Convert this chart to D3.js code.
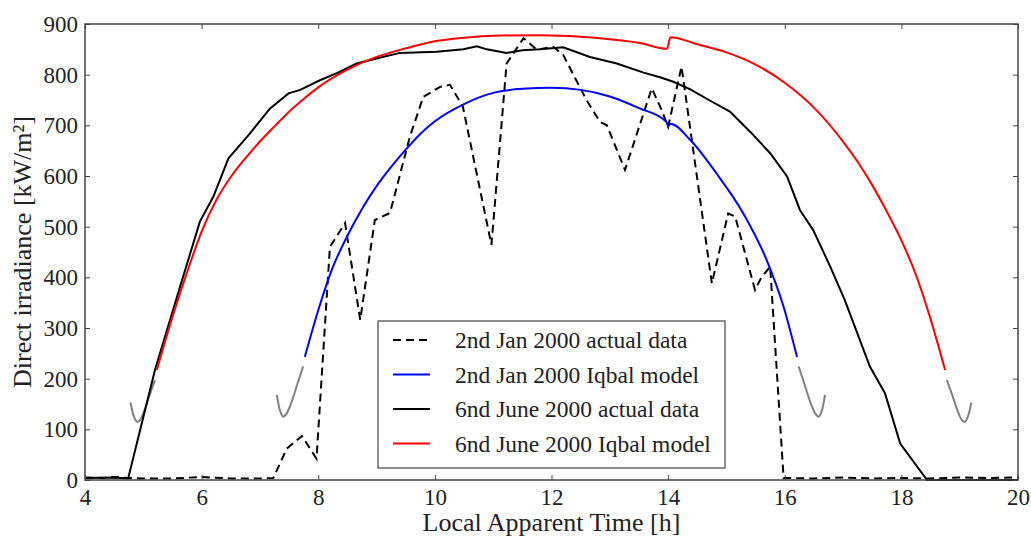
<!DOCTYPE html>
<html>
<head>
<meta charset="utf-8">
<script src="https://cdnjs.cloudflare.com/ajax/libs/d3/7.8.5/d3.min.js"></script>
<style>
  body { margin: 0; background: #fff; }
  text { font-family: "Liberation Serif", "Times New Roman", serif; fill: #222; }
</style>
</head>
<body>
<div id="chart"></div>
<script>
// ---- data ----
var xTicks = [4, 6, 8, 10, 12, 14, 16, 18, 20];
var yTicks = [0, 100, 200, 300, 400, 500, 600, 700, 800, 900];

var seriesNames = ["2nd Jan 2000 actual data", "2nd Jan 2000 Iqbal model",
                   "6nd June 2000 actual data", "6nd June 2000 Iqbal model"];

var janActualX = [4, 4.3, 4.5, 4.75, 5, 5.5, 6, 6.5, 7, 7.23, 7.46, 7.72, 7.97, 8.2, 8.46, 8.72, 8.97, 9.23, 9.57, 9.8, 10.09, 10.26, 10.48, 10.97, 11.23, 11.52, 11.75, 12.03, 12.2, 12.6, 12.83, 12.95, 13.26, 13.72, 13.89, 14.0, 14.23, 14.75, 15.03, 15.15, 15.49, 15.6, 15.75, 15.98, 16.5, 17, 17.5, 18, 18.5, 19, 19.5, 20];
var janActualY = [5, 4, 6, 4, 3, 3, 6, 3, 3, 4, 62, 87, 42, 460, 507, 316, 513, 527, 677, 756, 776, 780, 737, 464, 822, 872, 849, 855, 839, 750, 707, 700, 612, 773, 730, 697, 816, 388, 526, 520, 375, 400, 421, 4, 3, 5, 3, 4, 3, 5, 4, 5];

var janModelX = [7.77, 8.0, 8.25, 8.5, 8.75, 9.0, 9.25, 9.5, 9.75, 10.0, 10.5, 11.0, 11.5, 12.0, 12.5, 13.0, 13.5, 13.97, 14.0, 14.04, 14.38, 14.83, 15.29, 15.69, 15.98, 16.21];
var janModelY = [243, 335, 420, 482, 535, 580, 618, 652, 683, 708, 742, 764, 772, 774, 770, 757, 734, 707, 698, 703, 671, 605, 526, 434, 342, 243];

var junActualX = [4, 4.5, 4.74, 5.2, 5.6, 5.97, 6.2, 6.46, 6.83, 7.17, 7.49, 7.69, 8.03, 8.32, 8.66, 9.0, 9.4, 10.03, 10.49, 10.72, 10.89, 11.23, 11.5, 11.8, 12.2, 12.66, 13.12, 13.58, 13.86, 14.09, 14.38, 14.7, 15.06, 15.41, 15.75, 16.04, 16.26, 16.49, 16.78, 17.03, 17.46, 17.72, 17.98, 18.44, 19, 20];
var junActualY = [4, 5, 3, 217, 370, 510, 559, 635, 684, 733, 763, 770, 789, 803, 822, 832, 843, 845, 850, 856, 850, 843, 848, 850, 854, 835, 822, 804, 795, 786, 771, 750, 727, 687, 645, 599, 533, 493, 421, 355, 224, 171, 72, 0, 0, 0];

var junModelX = [5.23, 5.5, 5.75, 6.0, 6.25, 6.5, 6.75, 7.0, 7.25, 7.5, 7.75, 8.0, 8.5, 9.0, 9.5, 10.0, 10.5, 11.0, 11.8, 12.5, 13.0, 13.5, 13.98, 14.04, 14.5, 15.0, 15.5, 16.0, 16.5, 17.0, 17.25, 17.5, 17.75, 18.0, 18.25, 18.5, 18.75];
var junModelY = [217, 322, 410, 490, 552, 598, 635, 668, 698, 727, 752, 775, 810, 835, 852, 866, 873, 877, 878, 875, 870, 863, 851, 874, 860, 844, 820, 784, 735, 668, 628, 582, 530, 473, 405, 318, 217];

// gray tails of the model below its valid range
var tailsX = [
  [7.74, 7.63, 7.53, 7.45, 7.40, 7.35, 7.29],
  [16.24, 16.35, 16.45, 16.53, 16.58, 16.63, 16.69],
  [5.2, 5.1, 5.01, 4.94, 4.89, 4.84, 4.78],
  [18.78, 18.88, 18.97, 19.04, 19.09, 19.14, 19.2]
];
var tailsY = [
  [224, 185, 150, 130, 125, 135, 168],
  [224, 185, 150, 130, 125, 135, 168],
  [197, 165, 135, 118, 115, 125, 153],
  [197, 165, 135, 118, 115, 125, 153]
];

// ---- layout ----
var width = 1031, height = 539;
var margin = {left: 85, right: 13, top: 24, bottom: 59};
var w = width - margin.left - margin.right;
var h = height - margin.top - margin.bottom;

var svg = d3.select("#chart").append("svg")
    .attr("width", width)
    .attr("height", height);

var g = svg.append("g")
    .attr("transform", "translate(" + margin.left + "," + margin.top + ")");

var x = d3.scaleLinear().domain([4, 20]).range([0, w]);
var y = d3.scaleLinear().domain([0, 900]).range([h, 0]);

function zip(xs, ys) { return xs.map(function(v, i) { return [v, ys[i]]; }); }

var lineLin = d3.line().x(function(d) { return x(d[0]); }).y(function(d) { return y(d[1]); });
var lineSmooth = d3.line().curve(d3.curveMonotoneX)
    .x(function(d) { return x(d[0]); }).y(function(d) { return y(d[1]); });
var lineTail = d3.line().curve(d3.curveCatmullRom)
    .x(function(d) { return x(d[0]); }).y(function(d) { return y(d[1]); });

var plot = g.append("g");

// gray tails
tailsX.forEach(function(tx, i) {
  plot.append("path")
      .attr("d", lineTail(zip(tx, tailsY[i])))
      .attr("fill", "none")
      .attr("stroke", "#808080")
      .attr("stroke-width", 2);
});

plot.append("path")
    .attr("d", lineLin(zip(janActualX, janActualY)))
    .attr("fill", "none").attr("stroke", "#000").attr("stroke-width", 2)
    .attr("stroke-dasharray", "8,5");

plot.append("path")
    .attr("d", lineSmooth(zip(janModelX, janModelY)))
    .attr("fill", "none").attr("stroke", "#0000ff").attr("stroke-width", 2);

plot.append("path")
    .attr("d", lineLin(zip(junActualX, junActualY)))
    .attr("fill", "none").attr("stroke", "#000").attr("stroke-width", 2);

plot.append("path")
    .attr("d", lineSmooth(zip(junModelX, junModelY)))
    .attr("fill", "none").attr("stroke", "#ff0000").attr("stroke-width", 2);

// ---- axes (ticks inside on all four sides) ----
var frame = "#444";
var xb = g.append("g").attr("transform", "translate(0," + h + ")")
    .call(d3.axisBottom(x).tickValues(xTicks).tickSizeInner(-5).tickSizeOuter(0).tickPadding(9));
var xt = g.append("g")
    .call(d3.axisTop(x).tickValues(xTicks).tickSizeInner(-5).tickSizeOuter(0).tickFormat(""));
var yl = g.append("g")
    .call(d3.axisLeft(y).tickValues(yTicks).tickSizeInner(-5).tickSizeOuter(0).tickPadding(7));
var yr = g.append("g").attr("transform", "translate(" + w + ",0)")
    .call(d3.axisRight(y).tickValues(yTicks).tickSizeInner(-5).tickSizeOuter(0).tickFormat(""));

[xb, xt, yl, yr].forEach(function(a) {
  a.select(".domain").remove();
  a.selectAll("line").attr("stroke", frame).attr("stroke-width", 1);
  a.selectAll("text").style("font-size", "23px").attr("fill", "#222");
});

g.append("rect")
    .attr("width", w).attr("height", h)
    .attr("fill", "none").attr("stroke", frame).attr("stroke-width", 1.5);

// axis titles
svg.append("text")
    .attr("x", margin.left + w / 2)
    .attr("y", 531)
    .attr("text-anchor", "middle")
    .style("font-size", "26px")
    .text("Local Apparent Time [h]");

svg.append("text")
    .attr("transform", "translate(31,252) rotate(-90)")
    .attr("text-anchor", "middle")
    .style("font-size", "26px")
    .text("Direct irradiance [kW/m²]");

// ---- legend ----
var legend = svg.append("g").attr("transform", "translate(378,321)");
legend.append("rect")
    .attr("width", 347).attr("height", 147)
    .attr("fill", "#fff").attr("stroke", frame).attr("stroke-width", 1.2);

var legStyles = [
  {color: "#000", dash: "8,5"},
  {color: "#0000ff", dash: null},
  {color: "#000", dash: null},
  {color: "#ff0000", dash: null}
];

seriesNames.forEach(function(name, i) {
  var row = legend.append("g").attr("transform", "translate(0," + (19 + i * 34.5) + ")");
  row.append("line")
      .attr("x1", 15).attr("x2", 52)
      .attr("stroke", legStyles[i].color).attr("stroke-width", 2)
      .attr("stroke-dasharray", legStyles[i].dash);
  row.append("text")
      .attr("x", 77).attr("dy", "0.35em")
      .style("font-size", "23.5px")
      .text(name);
});
</script>
</body>
</html>
